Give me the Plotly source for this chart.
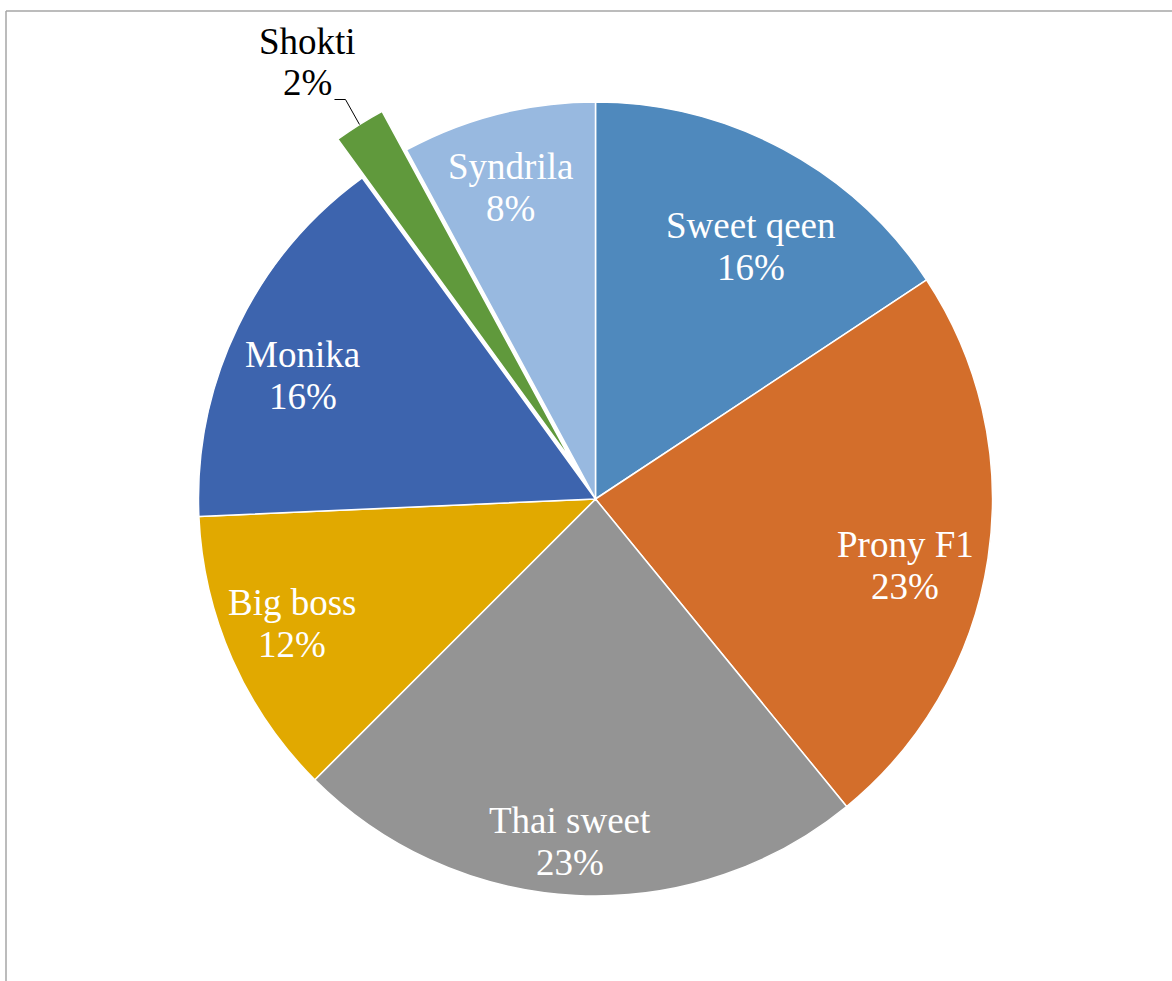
import math
import plotly.graph_objects as go

# ---- data ----
varieties = ["Sweet qeen", "Prony F1", "Thai sweet", "Big boss", "Monika", "Shokti", "Syndrila"]
shares = [15.7, 23.4, 23.4, 11.8, 15.7, 2.1, 7.9]

# ---- style ----
colors = ["#4F89BD", "#D36E2B", "#949494", "#E1A900", "#3D64AE", "#60993C", "#98B9E0"]
pulls = [0, 0, 0, 0, 0, 0.115, 0]
label_r = [0.746, 0.798, 0.864, 0.826, 0.80, None, 0.814]   # radial position of inside labels
label_f = [0.56, 0.542, 0.517, 0.532, 0.45, 0.5, 0.466]     # angular position within slice

W, H = 1172, 981
CX, CY, R = 595.5, 499.0, 397.0          # pie centre / radius in px
maxpull = max(pulls)
half = R * (1 + maxpull)
dom_x = [(CX - half) / W, (CX + half) / W]
dom_y = [1 - (CY + half) / H, 1 - (CY - half) / H]

fig = go.Figure(go.Pie(
    labels=varieties,
    values=shares,
    sort=False,
    direction="clockwise",
    rotation=0,
    pull=pulls,
    marker=dict(colors=colors, line=dict(color="white", width=1.5)),
    textinfo="none",
    hoverinfo="label+percent",
    showlegend=False,
    domain=dict(x=dom_x, y=dom_y),
))

font_face = "Liberation Serif, Times New Roman, serif"
total = sum(shares)
cum = 0.0
annotations = []
shapes = []
for name, v, lr, lf, p in zip(varieties, shares, label_r, label_f, pulls):
    ang = (cum + v * lf) / total * 2 * math.pi
    mid = (cum + v / 2) / total * 2 * math.pi
    cum += v
    pct = f"{round(v / total * 100)}%"
    if lr is not None:
        px = CX + lr * R * math.sin(ang)
        py = CY - lr * R * math.cos(ang)
        for txt, dy in ((name, 21), (pct, -21)):
            annotations.append(dict(
                x=px / W, y=1 - py / H, xref="paper", yref="paper",
                text=txt, showarrow=False, yshift=dy,
                xanchor="center", yanchor="middle",
                font=dict(family=font_face, size=37, color="white"),
            ))
    else:
        # outside label with leader line
        ex = CX + R * (1 + p) * math.sin(mid)
        ey = CY - R * (1 + p) * math.cos(mid)
        elx, ely = ex - 14, ey - 25
        sx, sy = ex - 25, ey - 25
        shapes.append(dict(
            type="path", xref="paper", yref="paper",
            path=f"M {sx / W} {1 - sy / H} L {elx / W} {1 - ely / H} L {ex / W} {1 - ey / H}",
            line=dict(color="black", width=1),
        ))
        tx, ty = sx - 27, sy - 38
        for txt, dy in ((name, 20), (pct, -21)):
            annotations.append(dict(
                x=tx / W, y=1 - ty / H, xref="paper", yref="paper",
                text=txt, showarrow=False, yshift=dy,
                xanchor="center", yanchor="middle",
                font=dict(family=font_face, size=37, color="black"),
            ))

# chart-area frame (partially visible)
frame_col = "#A6A6A6"
shapes.append(dict(type="line", xref="paper", yref="paper",
                   x0=6 / W, x1=1, y0=1 - 11 / H, y1=1 - 11 / H,
                   line=dict(color=frame_col, width=1.5)))
shapes.append(dict(type="line", xref="paper", yref="paper",
                   x0=6 / W, x1=6 / W, y0=0, y1=1 - 11 / H,
                   line=dict(color=frame_col, width=1.5)))

fig.update_layout(
    width=W, height=H,
    margin=dict(l=0, r=0, t=0, b=0),
    paper_bgcolor="white",
    plot_bgcolor="white",
    annotations=annotations,
    shapes=shapes,
)

fig.write_html("out.html")
